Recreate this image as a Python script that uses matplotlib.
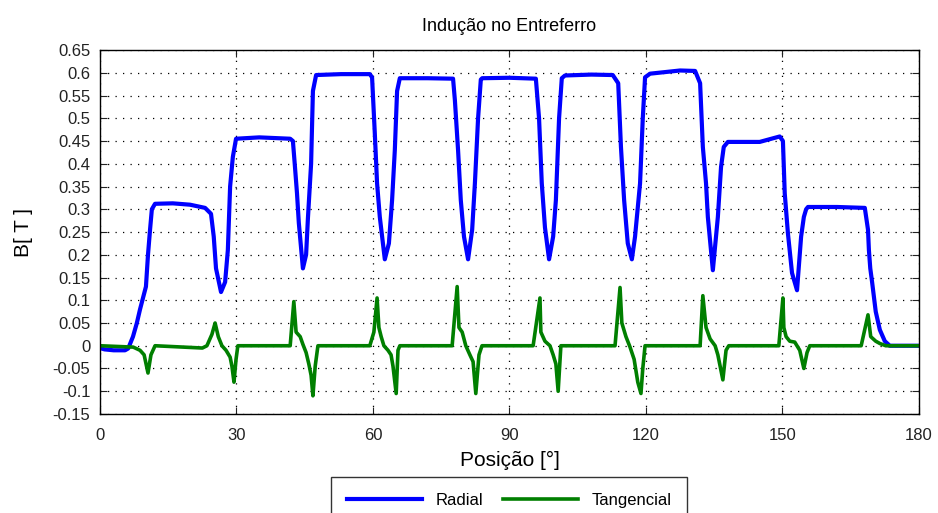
import numpy as np
import matplotlib.pyplot as plt

# Radial induction (blue)
radial_pos = [0, 1, 3, 5.5, 6.2, 7.25, 8.1, 8.8, 9.45, 10.1, 10.55, 11.0, 11.4, 12.1, 16, 19.8,
              23.1, 24.4, 25.0, 25.5, 26.6, 27.5, 28.1, 28.6, 29.2, 29.9, 35, 41.8,
              42.4, 42.8, 43.3, 43.7, 44.6, 45.3, 45.7, 46.4, 46.8, 47.5, 53, 59.3,
              59.8, 60.4, 60.9, 61.5, 62.6, 63.5, 64.2, 64.8, 65.3, 65.9, 72, 77.6,
              78.0, 78.7, 79.3, 80.0, 80.9, 81.8, 82.4, 83.1, 83.7, 84.0, 90, 95.8,
              96.5, 97.1, 97.8, 98.7, 99.6, 100.2, 100.9, 101.5, 102.2, 108, 112.7,
              113.9, 114.5, 115.2, 116.0, 116.9, 117.6, 118.7, 119.3, 119.8, 120.9, 127.5, 130.8,
              131.9, 132.5, 133.2, 133.6, 134.7, 135.8, 136.5, 137.1, 138.0, 145, 149.4,
              150.1, 150.5, 151.2, 152.1, 153.2, 154.1, 154.7, 155.2, 155.6, 162, 168.1,
              168.8, 169.0, 169.3, 169.7, 170.5, 171.4, 172.5, 173.6, 180]
radial_val = [-0.005, -0.008, -0.01, -0.01, -0.006, 0.02, 0.05, 0.08, 0.105, 0.13, 0.2, 0.255, 0.3, 0.312, 0.313, 0.31,
              0.303, 0.29, 0.24, 0.17, 0.118, 0.14, 0.21, 0.35, 0.415, 0.455, 0.458, 0.455,
              0.45, 0.40, 0.335, 0.27, 0.17, 0.2, 0.28, 0.40, 0.56, 0.595, 0.597, 0.597,
              0.59, 0.467, 0.357, 0.283, 0.19, 0.225, 0.32, 0.43, 0.56, 0.588, 0.588, 0.587,
              0.54, 0.43, 0.32, 0.24, 0.19, 0.255, 0.357, 0.5, 0.585, 0.588, 0.589, 0.587,
              0.5, 0.357, 0.26, 0.19, 0.24, 0.32, 0.5, 0.588, 0.594, 0.596, 0.595,
              0.577, 0.437, 0.32, 0.225, 0.19, 0.24, 0.357, 0.5, 0.59, 0.598, 0.605, 0.604,
              0.577, 0.437, 0.357, 0.283, 0.166, 0.283, 0.393, 0.437, 0.448, 0.448, 0.46,
              0.45, 0.335, 0.247, 0.16, 0.122, 0.24, 0.283, 0.300, 0.305, 0.305, 0.303,
              0.255, 0.21, 0.17, 0.14, 0.075, 0.035, 0.01, 0.0, 0.0]

# Tangential induction (green)
tang_pos = [0, 7.3, 8.8, 9.7, 10.55, 11.2, 12.1, 22.5, 23.5, 24.6, 25.3, 26.0, 26.8, 27.7, 28.6, 29.0, 29.45, 29.9, 30.3,
            41.8, 42.6, 43.1, 44.0, 44.6, 45.3, 45.9, 46.4, 46.8, 47.3, 47.9,
            59.3, 60.2, 60.9, 61.3, 61.8, 62.4, 63.3, 63.97, 64.4, 65.1, 65.5, 65.9,
            77.4, 78.5, 78.9, 79.6, 80.4, 81.3, 82.0, 82.6, 83.3, 83.96,
            95.2, 96.7, 96.9, 97.8, 98.9, 99.6, 100.2, 100.7, 101.3,
            113.2, 114.3, 114.7, 115.6, 116.5, 117.4, 118.2, 118.9, 119.3, 119.8,
            131.9, 132.5, 133.2, 134.1, 135.2, 135.8, 136.9, 137.6, 138.2,
            149.2, 150.1, 150.3, 150.8, 151.6, 152.7, 153.8, 154.7, 155.4, 156.0,
            167.3, 168.8, 169.4, 170.5, 171.4, 172.7, 180]
tang_val = [0.0, -0.003, -0.01, -0.02, -0.06, -0.02, 0.0, -0.005, 0.0, 0.025, 0.05, 0.02, 0.0, -0.01, -0.025, -0.045, -0.08, -0.03, 0.0,
            0.0, 0.097, 0.03, 0.02, 0.003, -0.015, -0.04, -0.065, -0.11, -0.045, 0.0,
            0.0, 0.03, 0.105, 0.04, 0.02, 0.0, -0.01, -0.02, -0.045, -0.105, -0.01, 0.0,
            0.0, 0.13, 0.04, 0.03, 0.0, -0.02, -0.035, -0.105, -0.02, 0.0,
            0.0, 0.105, 0.03, 0.01, 0.0, -0.02, -0.04, -0.1, 0.0,
            0.0, 0.128, 0.05, 0.02, -0.003, -0.03, -0.08, -0.105, -0.05, 0.0,
            0.0, 0.11, 0.04, 0.015, 0.0, -0.02, -0.075, -0.01, 0.0,
            0.0, 0.105, 0.04, 0.02, 0.01, 0.008, -0.01, -0.05, -0.015, 0.0,
            0.0, 0.068, 0.02, 0.01, 0.005, 0.0, 0.0]

x_ticks = [0, 30, 60, 90, 120, 150, 180]
y_ticks = [-0.15, -0.1, -0.05, 0, 0.05, 0.1, 0.15, 0.2, 0.25, 0.3, 0.35, 0.4,
           0.45, 0.5, 0.55, 0.6, 0.65]

plt.rcParams['font.family'] = ['Liberation Sans', 'DejaVu Sans']

fig = plt.figure(figsize=(9.38, 5.13), dpi=100)
ax = fig.add_axes([0.1066, 0.193, 0.8731, 0.7095])

ax.plot(radial_pos, radial_val, color='#0000ff', lw=3, label='Radial')
ax.plot(tang_pos, tang_val, color='#007f00', lw=2.6, label='Tangencial')

ax.set_xlim(0, 180)
ax.set_ylim(-0.15, 0.65)
ax.set_xticks(x_ticks)
ax.set_yticks(y_ticks)
ax.set_yticklabels([('%g' % v) for v in y_ticks])
ax.tick_params(direction='in', length=5, top=True, right=True, labelsize=12, colors='#222222')
ax.tick_params(axis='x', pad=10)
ax.tick_params(axis='y', pad=7)
ax.grid(True, color='black', linestyle=(0, (1, 5)), linewidth=0.9)
for s in ax.spines.values():
    s.set_linewidth(1.0)

ax.set_title('Indução no Entreferro', fontsize=13, pad=14)
ax.set_xlabel('Posição [°]', fontsize=15, labelpad=6)
ax.set_ylabel('B[ T ]', fontsize=15, labelpad=14)

# legend sits below the axes, its lower edge runs off the figure
leg = ax.legend(loc='upper center', bbox_to_anchor=(0.5, -0.15), ncol=2, fontsize=12,
                frameon=True, fancybox=False, edgecolor='black', handlelength=4.5,
                columnspacing=1.2, borderpad=0.95)
leg.get_frame().set_linewidth(1.0)

fig.savefig('out.png', dpi=100)
